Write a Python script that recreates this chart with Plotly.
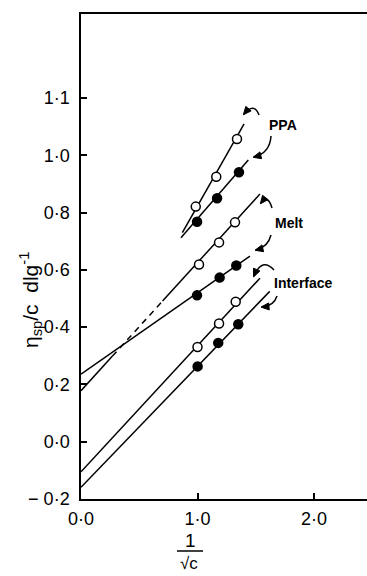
import plotly.graph_objects as go
import math

# ---------------- data ----------------
ppa_open_x = [0.985, 1.161, 1.339]
ppa_open_y = [0.821, 0.925, 1.057]
ppa_fill_x = [0.996, 1.168, 1.356]
ppa_fill_y = [0.768, 0.850, 0.941]
melt_open_x = [1.013, 1.185, 1.322]
melt_open_y = [0.619, 0.696, 0.766]
melt_fill_x = [0.996, 1.190, 1.333]
melt_fill_y = [0.511, 0.573, 0.615]
int_open_x = [1.000, 1.185, 1.328]
int_open_y = [0.331, 0.413, 0.489]
int_fill_x = [1.001, 1.178, 1.350]
int_fill_y = [0.263, 0.345, 0.410]

# fitted straight lines (end points)
ppa_open_line_x = [0.870, 1.400]
ppa_open_line_y = [0.730, 1.110]
ppa_fill_line_x = [0.858, 1.436]
ppa_fill_line_y = [0.712, 0.984]
melt_open_line_x = [0.0, 0.27, 0.70, 1.536]
melt_open_line_y = [0.178, 0.299, 0.491, 0.865]
melt_fill_line_x = [0.0, 1.450]
melt_fill_line_y = [0.236, 0.648]
int_open_line_x = [0.0, 1.536]
int_open_line_y = [-0.105, 0.571]
int_fill_line_x = [0.0, 1.620]
int_fill_line_y = [-0.159, 0.525]

x_tickvals = [0.0, 1.0, 2.0]
x_ticktext = ["0·0", "1·0", "2·0"]
y_tickvals = [-0.2, 0.0, 0.2, 0.4, 0.6, 0.8, 1.0, 1.2]
y_ticktext = ["− 0·2", "0·0", "0·2", "0·4", "0·6", "0·8", "1·0", "1·1"]

labels = ["PPA", "Melt", "Interface"]

# ---------------- figure ----------------
W, H = 367, 576
L, R, T, B = 81, 0, 14, 77
PW, PH = W - L - R, H - T - B

def px(x, y):
    return (x - L) / PW, (H - B - y) / PH

fig = go.Figure()

def add_line(xs, ys, dash="solid"):
    fig.add_trace(go.Scatter(x=xs, y=ys, mode="lines", line=dict(color="black", width=1.5, dash=dash),
                             showlegend=False, hoverinfo="skip"))

add_line(ppa_open_line_x, ppa_open_line_y)
add_line(ppa_fill_line_x, ppa_fill_line_y)
add_line(melt_open_line_x[:2], melt_open_line_y[:2])
add_line(melt_open_line_x[1:3], melt_open_line_y[1:3], dash="6px,5px")
add_line(melt_open_line_x[2:], melt_open_line_y[2:])
add_line(melt_fill_line_x, melt_fill_line_y)
add_line(int_open_line_x, int_open_line_y)
add_line(int_fill_line_x, int_fill_line_y)

def add_pts(xs, ys, filled):
    fig.add_trace(go.Scatter(x=xs, y=ys, mode="markers", showlegend=False,
                             marker=dict(size=9, color="black" if filled else "white",
                                         line=dict(color="black", width=1.5))))

add_pts(ppa_open_x, ppa_open_y, False)
add_pts(ppa_fill_x, ppa_fill_y, True)
add_pts(melt_open_x, melt_open_y, False)
add_pts(melt_fill_x, melt_fill_y, True)
add_pts(int_open_x, int_open_y, False)
add_pts(int_fill_x, int_fill_y, True)

# ---------------- decorations: curved arrows ----------------
arrows = [
    ((259, 115), (254, 102), (244, 114)),
    ((271, 136), (270, 153), (254, 157)),
    ((272, 208), (268, 194), (261, 203)),
    ((271, 235), (268, 247), (256, 250)),
    ((274, 270), (262, 257), (254, 276)),
    ((277, 296), (274, 306), (262, 307)),
]
shapes = []
for (s, c, e) in arrows:
    p0, p1, p2 = px(*s), px(*c), px(*e)
    shapes.append(dict(type="path", xref="paper", yref="paper",
                       path=f"M {p0[0]},{p0[1]} Q {p1[0]},{p1[1]} {p2[0]},{p2[1]}",
                       line=dict(color="black", width=1.5)))
    dx, dy = e[0] - c[0], e[1] - c[1]
    n = math.hypot(dx, dy)
    ux, uy = dx / n, dy / n
    hl, hw = 7, 3.5
    bx, by = e[0] - ux * hl, e[1] - uy * hl
    a = px(e[0] + ux * 1, e[1] + uy * 1)
    b1 = px(bx - uy * hw, by + ux * hw)
    b2 = px(bx + uy * hw, by - ux * hw)
    shapes.append(dict(type="path", xref="paper", yref="paper",
                       path=f"M {a[0]},{a[1]} L {b1[0]},{b1[1]} L {b2[0]},{b2[1]} Z",
                       fillcolor="black", line=dict(color="black", width=1)))

# fraction bar of x title
f0, f1 = px(177, 551), px(203, 551)
shapes.append(dict(type="line", xref="paper", yref="paper", x0=f0[0], y0=f0[1], x1=f1[0], y1=f1[1],
                   line=dict(color="black", width=1.5)))

annotations = []
lab_font = dict(family="Liberation Sans, Arial, sans-serif", size=14, color="black")
for txt, (x, y) in zip(labels, [(267, 125), (273, 223), (272, 283)]):
    p = px(x, y)
    annotations.append(dict(x=p[0], y=p[1], xref="paper", yref="paper", text=f"<b>{txt}</b>",
                            showarrow=False, xanchor="left", yanchor="middle", font=lab_font))

tickfont = dict(family="Liberation Sans, Arial, sans-serif", size=18, color="black")
tfont = dict(family="Liberation Sans, Arial, sans-serif", size=19, color="black")
p = px(190, 551)
annotations.append(dict(x=p[0], y=p[1], xref="paper", yref="paper", text="1", showarrow=False,
                        xanchor="center", yanchor="bottom", yshift=-1, borderpad=0, font=tfont))
p = px(189, 563)
annotations.append(dict(x=p[0], y=p[1], xref="paper", yref="paper", text="√c", showarrow=False,
                        xanchor="center", yanchor="middle", borderpad=0,
                        font=dict(family="Liberation Sans, Arial, sans-serif", size=17, color="black")))
p = px(30, 300)
annotations.append(dict(x=p[0], y=p[1], xref="paper", yref="paper",
                        text="η<sub>sp</sub>/c  dlg<sup>-1</sup>", showarrow=False, textangle=-90,
                        xanchor="center", yanchor="middle",
                        font=dict(family="Liberation Sans, Arial, sans-serif", size=21, color="black")))

fig.update_layout(
    width=W, height=H, margin=dict(l=L, r=R, t=T, b=B),
    paper_bgcolor="white", plot_bgcolor="white",
    showlegend=False, shapes=shapes, annotations=annotations,
    xaxis=dict(range=[0, PW / 116.5], tickvals=x_tickvals, ticktext=x_ticktext,
               showgrid=False, zeroline=False, showline=True, linecolor="black", linewidth=1.5,
               mirror=True, ticks="inside", ticklen=6, tickwidth=1.5, tickcolor="black",
               tickfont=tickfont, ticklabelstandoff=3),
    yaxis=dict(range=[-0.2, -0.2 + PH / 286.4], tickvals=y_tickvals, ticktext=y_ticktext,
               showgrid=False, zeroline=False, showline=True, linecolor="black", linewidth=1.5,
               ticks="inside", ticklen=6, tickwidth=1.5, tickcolor="black",
               tickfont=tickfont, ticklabelstandoff=6),
)

fig.write_html("out.html")
